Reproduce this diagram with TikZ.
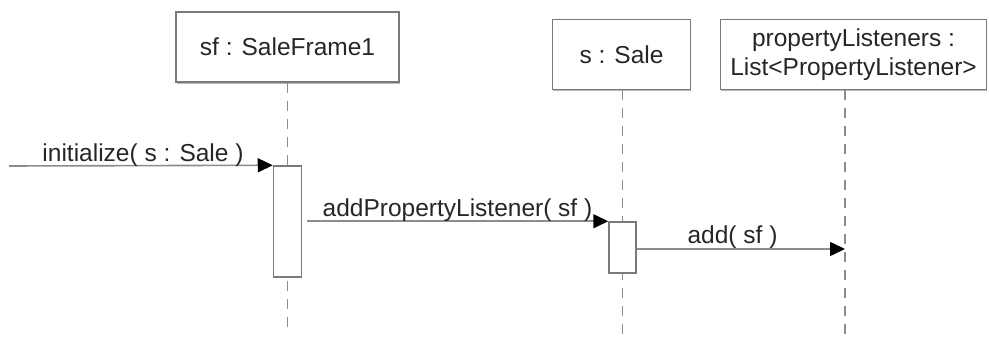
\documentclass[tikz,border=0pt]{standalone}
\usepackage{fontspec}
\setmainfont{Liberation Sans}
\usetikzlibrary{arrows.meta,shadows}
\definecolor{linegray}{HTML}{8C8C8C}
\definecolor{boxgray}{HTML}{7A7A7A}
\definecolor{txt}{HTML}{262626}
\tikzset{
  objbox/.style={draw=boxgray, line width=1.5pt, fill=white, inner sep=0pt,
    text=txt, font=\fontsize{24.5}{29}\selectfont, align=center,
    general shadow={fill=gray!55, shadow xshift=0.8pt, shadow yshift=-1.6pt}},
  actbox/.style={draw=boxgray, line width=1.5pt, fill=white, inner sep=0pt},
  lifeline/.style={draw=linegray, line width=1.6pt, dash pattern=on 10pt off 8pt},
  msg/.style={draw=linegray, line width=1.6pt, -{Triangle[length=15pt,width=14pt,color=black]}},
  lbl/.style={text=txt, font=\fontsize{24.5}{29}\selectfont, inner sep=0pt, anchor=base}
}
\begin{document}
\begin{tikzpicture}[x=1pt,y=-1pt]
\useasboundingbox (0,0) rectangle (989,340);
% objects
\node[objbox, minimum width=223pt, minimum height=70pt] (o1) at (287.5,47) {sf : SaleFrame1};
\node[objbox, minimum width=138pt, minimum height=70pt] (o2) at (621.5,54.5) {s : Sale};
\node[objbox, minimum width=266pt, minimum height=70pt] (o3) at (853.5,54.5) {propertyListeners :\\List<PropertyListener>};
% lifeline ends
\coordinate (e1) at (287.5,334);
\coordinate (e2) at (622.5,334);
\coordinate (e3) at (845,334);
\draw[lifeline] (o1.south -| e1) -- (e1);
\draw[lifeline] (o2.south -| e2) -- (e2);
\draw[lifeline] (o3.south -| e3) -- (e3);
% activations
\node[actbox, minimum width=28pt, minimum height=111pt] (a1) at (287.5,221.5) {};
\node[actbox, minimum width=27pt, minimum height=51pt] (a2) at (622.5,247.5) {};
% messages
\coordinate (start) at (9,166);
\draw[msg] (start) -- (a1.north west);
\draw[msg, shorten <=5pt] (a1.east |- a2.north) -- (a2.north west);
\draw[msg] (a2.east |- 0,249) -- (e3 |- 0,249);
% labels
\node[lbl] (l1) at (143,161) {initialize( s : Sale )};
\node[lbl] (l2) at (457.5,216) {addPropertyListener( sf )};
\node[lbl] (l3) at (732.5,243) {add( sf )};
\end{tikzpicture}
\end{document}
